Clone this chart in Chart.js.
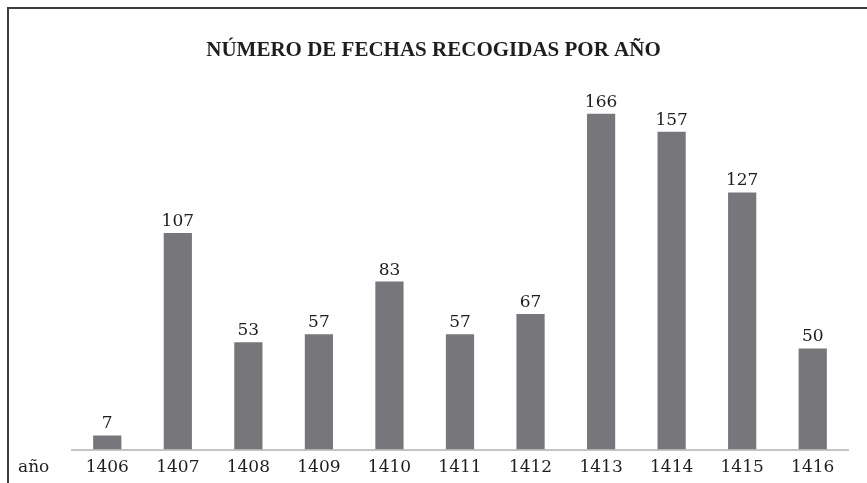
<!DOCTYPE html>
<html lang="es">
  <head>
    <meta charset="UTF-8" />
    <title>Número de fechas recogidas por año</title>
    <script src="https://cdn.jsdelivr.net/npm/chart.js@4.4.1/dist/chart.umd.min.js"></script>
    <style>
      body {
        margin: 0;
        background: #fff;
      }
      .frame {
        position: absolute;
        left: 7px;
        top: 7px;
        right: -5px;
        bottom: -5px;
        border-left: 2px solid #3a3a3a;
        border-top: 2px solid #3a3a3a;
        pointer-events: none;
      }
      .chart-container {
        position: relative;
        width: 867px;
        height: 483px;
        overflow: hidden;
      }
    </style>
  </head>
  <body>
    <div class="chart-container">
      <canvas id="myChart"></canvas>
      <div class="frame"></div>
    </div>

    <script>
      const years = ["1406", "1407", "1408", "1409", "1410", "1411", "1412", "1413", "1414", "1415", "1416"];
      const counts = [7, 107, 53, 57, 83, 57, 67, 166, 157, 127, 50];
      const axisName = "año";

      const serif = "'DejaVu Serif', serif";

      // value labels above each bar + "año" at the left of the year row
      const extraText = {
        id: "extraText",
        afterDatasetsDraw(chart) {
          const ctx = chart.ctx;
          const meta = chart.getDatasetMeta(0);
          ctx.save();
          ctx.fillStyle = "#1e1e1e";
          ctx.font = "17px " + serif;
          ctx.textAlign = "center";
          ctx.textBaseline = "bottom";
          meta.data.forEach((bar, i) => {
            ctx.fillText(counts[i], bar.x, bar.y - 3);
          });
          const xs = chart.scales.x;
          ctx.textAlign = "left";
          ctx.textBaseline = "middle";
          ctx.fillText(axisName, 18, xs.top + 8 + 10);
          ctx.restore();
        },
      };

      const ctx = document.getElementById("myChart").getContext("2d");
      const myChart = new Chart(ctx, {
        type: "bar",
        data: {
          labels: years,
          datasets: [
            {
              data: counts,
              backgroundColor: "#77777b",
              borderWidth: 0,
              barPercentage: 0.4,
              categoryPercentage: 1,
            },
          ],
        },
        options: {
          responsive: true,
          maintainAspectRatio: false,
          animation: false,
          layout: {
            padding: { left: 0, right: 0, top: 0, bottom: -3 },
          },
          scales: {
            y: {
              min: 0,
              max: 184,
              ticks: { display: false },
              grid: { display: false, drawTicks: false },
              border: { display: false },
              afterFit(scale) {
                scale.width = 72;
              },
            },
            yRight: {
              position: "right",
              min: 0,
              max: 184,
              ticks: { display: false },
              grid: { display: false, drawTicks: false },
              border: { display: false },
              afterFit(scale) {
                scale.width = 19;
              },
            },
            x: {
              grid: { display: false, drawTicks: false },
              border: { display: true, color: "#c4c4c4", width: 2 },
              ticks: {
                color: "#1e1e1e",
                padding: 8,
                font: { family: serif, size: 17 },
              },
            },
          },
          plugins: {
            legend: { display: false },
            tooltip: { enabled: false },
            title: {
              display: true,
              text: "NÚMERO DE FECHAS RECOGIDAS POR AÑO",
              color: "#1e1e1e",
              font: { family: "'Liberation Serif', serif", size: 21, weight: "bold" },
              padding: { top: 38, bottom: 14 },
            },
          },
        },
        plugins: [extraText],
      });
    </script>
  </body>
</html>
